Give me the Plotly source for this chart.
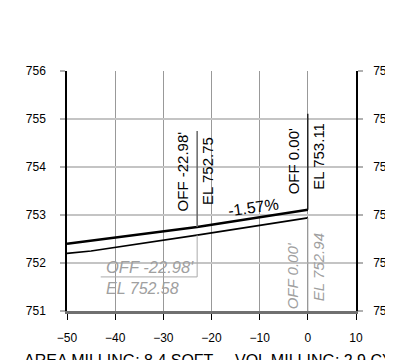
import plotly.graph_objects as go

# ---- data ----
offsets_top = [-50, -22.98, 0]
elev_top = [752.40, 752.75, 753.11]
offsets_bot = [-50, -45, -22.98, 0]
elev_bot = [752.20, 752.25, 752.58, 752.94]
x_ticks = [-50, -40, -30, -20, -10, 0, 10]
y_ticks = [751, 752, 753, 754, 755, 756]
area_milling = 8.4
vol_milling = 2.9

FONT = "Liberation Sans, Arial, sans-serif"
GRAY_T = "#a0a0a0"

fig = go.Figure()
fig.add_trace(go.Scatter(x=offsets_top, y=elev_top, mode="lines",
                         line=dict(color="black", width=2.5), hoverinfo="skip"))
fig.add_trace(go.Scatter(x=offsets_bot, y=elev_bot, mode="lines",
                         line=dict(color="black", width=1.6), hoverinfo="skip"))
# invisible trace for right axis
fig.add_trace(go.Scatter(x=[x_ticks[0]], y=[y_ticks[0]], yaxis="y2", mode="markers",
                         marker=dict(opacity=0), hoverinfo="skip"))

shapes = []
ann = []

# top labels (black)
for off, el, col, w in [(offsets_top[1], elev_top[1], "#666666", 1.5),
                        (offsets_top[2], elev_top[2], "black", 1.2)]:
    shapes.append(dict(type="line", xref="x", yref="y", x0=off, x1=off, y0=el, y1=el + 2,
                       line=dict(color=col, width=w)))
yc_top = {offsets_top[1]: (753.90, 753.91), offsets_top[2]: (754.125, 754.22)}
for off, el in [(offsets_top[1], elev_top[1]), (offsets_top[2], elev_top[2])]:
    yo, ye = yc_top[off]
    ann.append(dict(x=off, y=yo, xref="x", yref="y", text=f"OFF {off:.2f}'", textangle=-90,
                    showarrow=False, xshift=-14.5, xanchor="center", yanchor="middle",
                    font=dict(family=FONT, size=15, color="black")))
    ann.append(dict(x=off, y=ye, xref="x", yref="y", text=f"EL {el:.2f}", textangle=-90,
                    showarrow=False, xshift=10.5, xanchor="center", yanchor="middle",
                    font=dict(family=FONT, size=15, color="black")))

# bottom labels (gray italic)
off_b1, el_b1 = offsets_bot[2], elev_bot[2]
shapes.append(dict(type="line", xref="x", yref="y", x0=off_b1, x1=off_b1, y0=el_b1, y1=751.71,
                   line=dict(color="#aaaaaa", width=1)))
shapes.append(dict(type="line", xref="x", yref="y", x0=-43.0, x1=off_b1, y0=751.71, y1=751.71,
                   line=dict(color="#aaaaaa", width=1)))
ann.append(dict(x=-42.4, y=751.91, xref="x", yref="y", text=f"<i>OFF {off_b1:.2f}'</i>",
                showarrow=False, xanchor="left", yanchor="middle",
                font=dict(family=FONT, size=16.5, color=GRAY_T)))
ann.append(dict(x=-42.4, y=751.47, xref="x", yref="y", text=f"<i>EL {el_b1:.2f}</i>",
                showarrow=False, xanchor="left", yanchor="middle",
                font=dict(family=FONT, size=16, color=GRAY_T)))
off_b2, el_b2 = offsets_bot[3], elev_bot[3]
shapes.append(dict(type="line", xref="x", yref="y", x0=off_b2, x1=off_b2, y0=el_b2, y1=y_ticks[0],
                   line=dict(color="#999999", width=1)))
ann.append(dict(x=off_b2, y=751.74, xref="x", yref="y", text=f"<i>OFF {abs(off_b2):.2f}'</i>",
                textangle=-90, showarrow=False, xshift=-15, xanchor="center", yanchor="middle",
                font=dict(family=FONT, size=15, color=GRAY_T)))
ann.append(dict(x=off_b2, y=751.91, xref="x", yref="y", text=f"<i>EL {el_b2:.2f}</i>",
                textangle=-90, showarrow=False, xshift=10, xanchor="center", yanchor="middle",
                font=dict(family=FONT, size=15, color=GRAY_T)))

# slope label
slope = (elev_top[2] - elev_top[1]) / (offsets_top[2] - offsets_top[1]) * 100
ann.append(dict(x=-11.36, y=753.16, xref="x", yref="y", text=f"{-slope:.2f}%", textangle=-8,
                showarrow=False, xanchor="center", yanchor="middle",
                font=dict(family=FONT, size=16, color="black")))

# bottom summary
ann.append(dict(x=(21.7 - 67) / 289, y=-0.205, xref="paper", yref="paper",
                text=f"AREA MILLING: {area_milling} SQFT", showarrow=False,
                xanchor="left", yanchor="middle", font=dict(family=FONT, size=16, color="black")))
ann.append(dict(x=(233.3 - 67) / 289, y=-0.205, xref="paper", yref="paper",
                text=f"VOL MILLING: {vol_milling} CY", showarrow=False,
                xanchor="left", yanchor="middle", font=dict(family=FONT, size=16, color="black")))

yax_common = dict(range=[y_ticks[0], y_ticks[-1]], tickvals=y_ticks, ticktext=[str(v) for v in y_ticks],
                  showline=True, linecolor="black", linewidth=1.5,
                  ticks="outside", ticklen=5, tickwidth=2, tickcolor="#b0b0b0",
                  tickfont=dict(family=FONT, size=12, color="black"), zeroline=False,
                  fixedrange=True, automargin=False)

# page body has an 8px default margin; figure is sized to fill the rest
fig.update_layout(
    width=385, height=352,
    margin=dict(l=59, r=37, t=63, b=49, pad=0, autoexpand=False),
    paper_bgcolor="white", plot_bgcolor="white",
    showlegend=False,
    xaxis=dict(range=[x_ticks[0], x_ticks[-1]], tickvals=x_ticks,
               showline=True, linecolor="#707070", linewidth=2.5,
               ticks="outside", ticklen=6, tickwidth=1, tickcolor="black",
               showgrid=True, gridcolor="#999999", gridwidth=1, zeroline=False,
               automargin=False, ticklabelstandoff=8,
               tickfont=dict(family=FONT, size=12, color="black")),
    yaxis=dict(**yax_common, showgrid=True, gridcolor="#c4c4c4", gridwidth=2, side="left",
               ticklabelstandoff=12),
    yaxis2=dict(**yax_common, showgrid=False, overlaying="y", side="right",
                ticklabelstandoff=8),
    shapes=shapes,
    annotations=ann,
)

fig.write_html("out.html")
